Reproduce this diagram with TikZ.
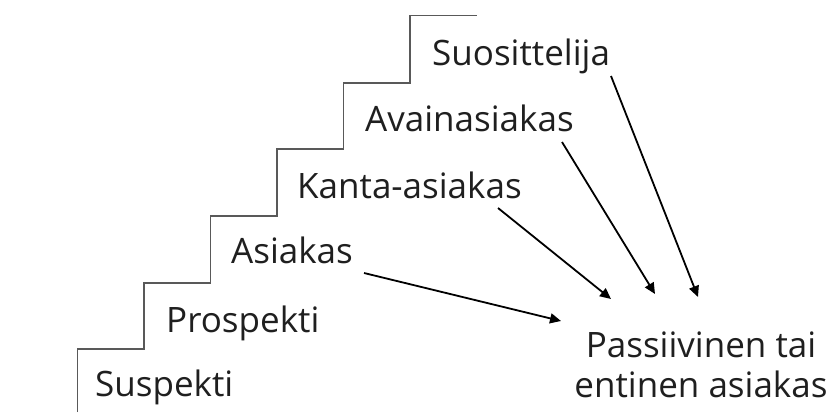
\documentclass[tikz,border=0pt]{standalone}
\usepackage{fontspec}
\setmainfont{Open Sans}
\usetikzlibrary{arrows.meta}
\begin{document}
\begin{tikzpicture}[x=1pt,y=-1pt,
  lbl/.style={anchor=base west,inner sep=0pt,font=\fontsize{35}{40}\selectfont,text=black!88},
  stair/.style={draw=black!65,line width=1.5pt},
  arr/.style={draw=black,line width=1.8pt,-{Triangle[length=11pt,width=10pt]}}]
\useasboundingbox (0,0) rectangle (834,412);
\draw[stair] (77.5,412) |- (144,349) |- (210.5,283) |- (277,216) |- (343.5,149) |- (410,83) |- (477,15.5);
\node[lbl] (sus) at (95,396) {Suspekti};
\node[lbl] (pro) at (166,332) {Prospekti};
\node[lbl] (asi) at (231,263) {Asiakas};
\node[lbl] (kan) at (297,198) {Kanta-asiakas};
\node[lbl] (ava) at (365,131) {Avainasiakas};
\node[lbl] (suo) at (432,65) {Suosittelija};
\node[lbl,anchor=base,align=center] (pas) at (701,397) {Passiivinen tai\\entinen asiakas};
\coordinate (a1) at (364,273);
\coordinate (b1) at (561,321);
\coordinate (a2) at (498,208);
\coordinate (b2) at (611,299);
\coordinate (a3) at (562,142);
\coordinate (b3) at (655,294);
\coordinate (a4) at (611,76);
\coordinate (b4) at (698,297);
\draw[arr] (a1) -- (b1);
\draw[arr] (a2) -- (b2);
\draw[arr] (a3) -- (b3);
\draw[arr] (a4) -- (b4);
\end{tikzpicture}
\end{document}
